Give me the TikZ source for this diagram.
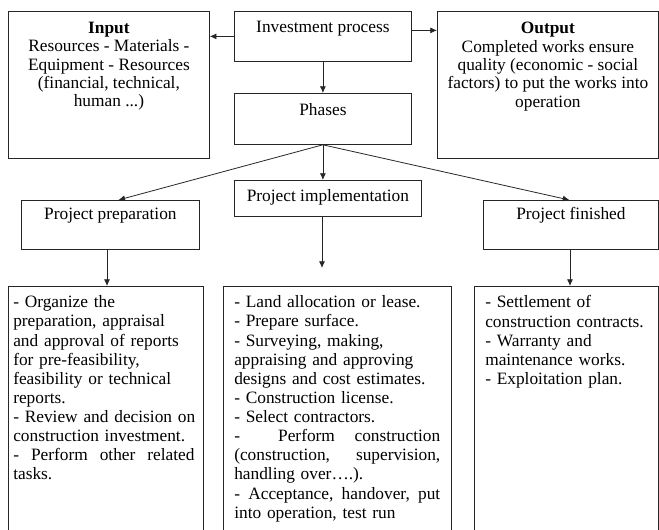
\documentclass[tikz,border=0pt]{standalone}
\usepackage{fontspec}
\setmainfont{Liberation Serif}
\usetikzlibrary{arrows.meta,calc}
\newcommand{\jl}[1]{\leavevmode\hbox to \hsize{#1}}
\begin{document}
\begin{tikzpicture}[x=0.75pt,y=-0.75pt,
  box/.style={draw=black!85, line width=0.6pt, inner sep=0pt, anchor=north west},
  txt/.style={inner sep=0pt, font=\fontsize{13pt}{13.75pt}\selectfont, align=center, anchor=north},
  ltxt/.style={inner sep=0pt, font=\fontsize{13pt}{14.35pt}\selectfont, align=left, anchor=north west},
  arr/.style={draw=black!85, line width=0.6pt, -{Latex[length=5pt,width=4.5pt]}}]
\useasboundingbox (0,0) rectangle (659,530);
\begin{scope}
\clip (0,0) rectangle (659,530);
\node[box, minimum width=150.75pt, minimum height=110.25pt] (inp) at (8,11) {};
\node[box, minimum width=132.75pt, minimum height=37.5pt] (inv) at (234,11) {};
\node[box, minimum width=165.75pt, minimum height=110.25pt] (out) at (437,11) {};
\node[box, minimum width=132.75pt, minimum height=38.25pt] (ph) at (234,93) {};
\node[box, minimum width=133.5pt, minimum height=36.75pt] (prep) at (21,200) {};
\node[box, minimum width=140.25pt, minimum height=27pt] (impl) at (234,180) {};
\node[box, minimum width=131.25pt, minimum height=36.75pt] (fin) at (483,200) {};
\node[box, minimum width=146.25pt, minimum height=194.25pt] (b1) at (8,286) {};
\node[box, minimum width=171pt, minimum height=194.25pt] (b2) at (223,286) {};
\node[box, minimum width=138pt, minimum height=194.25pt] (b3) at (474,286) {};
\end{scope}

\node[txt] (tinp) at ($(inp.north)+(0,11)$) {\textbf{Input}\\Resources - Materials -\\Equipment - Resources\\(financial, technical,\\human ...)};
\node[txt] (tout) at ($(out.north)+(0,11)$) {\textbf{Output}\\Completed works ensure\\quality (economic - social\\factors) to put the works into\\operation};
\node[txt] (tinv) at ($(inv.north)+(0,10)$) {Investment process};
\node[txt] (tph) at ($(ph.north)+(0,10)$) {Phases};
\node[txt] (tprep) at ($(prep.north)+(0,8)$) {Project preparation};
\node[txt] (timpl) at ($(impl.north)+(0,9)$) {Project implementation};
\node[txt] (tfin) at ($(fin.north)+(0,7)$) {Project finished};

\node[ltxt, text width=136pt] (t1) at (13,295.5) {- Organize the\\preparation, appraisal\\and approval of reports\\for pre-feasibility,\\feasibility or technical\\reports.\\\mbox{- Review and decision on}\\construction investment.\\\jl{-\hfill Perform\hfill other\hfill related}\\tasks.};
\node[ltxt, text width=154.5pt] (t2) at (234,295.5) {- Land allocation or lease.\\- Prepare surface.\\- Surveying, making,\\appraising and approving\\designs and cost estimates.\\- Construction license.\\- Select contractors.\\\jl{-\hspace{2.2em}Perform\hfill construction}\\\jl{(construction,\hfill supervision,}\\handling over\dots.).\\\jl{-\hfill Acceptance,\hfill handover,\hfill put}\\into operation, test run};
\node[ltxt, text width=124pt] (t3) at (485,295.5) {- Settlement of\\construction contracts.\\- Warranty and\\maintenance works.\\- Exploitation plan.};

\coordinate (implend) at (322,268);
\draw[arr] (inv.west) -- (inv.west -| inp.east);
\draw[arr] ([yshift=4.5pt]inv.east) -- ([yshift=4.5pt]inv.east -| out.west);
\draw[arr] (inv.south -| ph.north) -- (ph.north);
\draw[arr] (ph.south) -- ($(prep.north)+(8,0)$);
\draw[arr] (ph.south) -- (ph.south |- impl.north);
\draw[arr] (ph.south) -- ($(fin.north)+(-1.5,0)$);
\draw[arr] (prep.south -| 107,0) -- (b1.north -| 107,0);
\draw[arr] (impl.south -| implend) -- (implend);
\draw[arr] (fin.south -| 570,0) -- (b3.north -| 570,0);
\end{tikzpicture}
\end{document}
